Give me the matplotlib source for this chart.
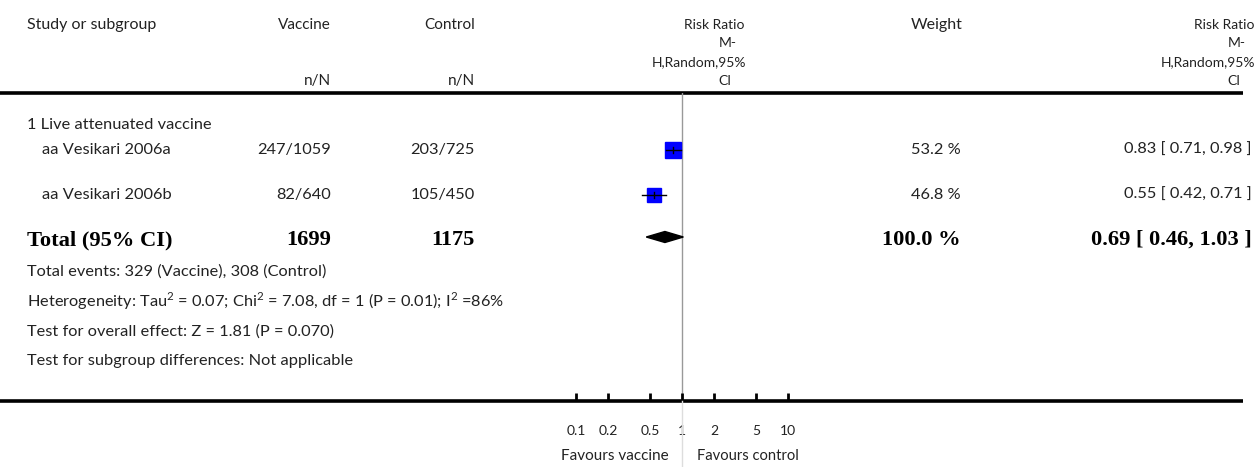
import matplotlib.pyplot as plt
from matplotlib.patches import Polygon

# data
studies = ['aa Vesikari 2006a', 'aa Vesikari 2006b']
vac_events = [247, 82]
vac_total = [1059, 640]
ctl_events = [203, 105]
ctl_total = [725, 450]
rr = [0.83, 0.55]
rr_lo = [0.71, 0.42]
rr_hi = [0.98, 0.71]
weights = [53.2, 46.8]
pooled = (0.69, 0.46, 1.03)
tick_vals = [0.1, 0.2, 0.5, 1, 2, 5, 10]
tick_labels = ['0.1', '0.2', '0.5', '1', '2', '5', '10']

footer = ['Total events: 329 (Vaccine), 308 (Control)',
          'Heterogeneity: Tau$^2$ = 0.07; Chi$^2$ = 7.08, df = 1 (P = 0.01); I$^2$ =86%',
          'Test for overall effect: Z = 1.81 (P = 0.070)',
          'Test for subgroup differences: Not applicable']

W, H = 1258, 467
plt.rcParams['font.family'] = ['Lato', 'DejaVu Sans']
plt.rcParams['mathtext.fontset'] = 'custom'
plt.rcParams['mathtext.rm'] = 'Lato'
txt = '#222222'
fs_head = 11
fs = 11.8
bold = dict(family='Liberation Serif', fontweight='bold', fontsize=16.2, color='black')

fig = plt.figure(figsize=(W / 100, H / 100), dpi=100)
ax0 = fig.add_axes([0, 0, 1, 1])
ax0.set_xlim(0, W)
ax0.set_ylim(H, 0)
ax0.axis('off')

# header
ax0.text(27, 25, 'Study or subgroup', fontsize=fs_head + 0.5, color=txt, va='center')
ax0.text(331, 25, 'Vaccine', fontsize=fs_head, color=txt, va='center', ha='right')
ax0.text(475, 25, 'Control', fontsize=fs_head, color=txt, va='center', ha='right')
ax0.text(331, 81, 'n/N', fontsize=fs_head, color=txt, va='center', ha='right')
ax0.text(475, 81, 'n/N', fontsize=fs_head, color=txt, va='center', ha='right')
ax0.text(937, 25, 'Weight', fontsize=fs_head + 0.5, color=txt, va='center', ha='center')
for xr in (746, 1255):
    for line, dx, yy in [('Risk Ratio', -1, 25), ('M-', -9, 43), ('H,Random,95%', 0, 62), ('CI', -15, 81)]:
        ax0.text(xr + dx, yy, line, fontsize=10, color=txt, va='center', ha='right')

ax0.plot([0, 1243], [93, 93], color='black', lw=2.6, solid_capstyle='butt')
ax0.plot([0, 1243], [401, 401], color='black', lw=2.6, solid_capstyle='butt')

# rows
ax0.text(27, 125, '1 Live attenuated vaccine', fontsize=fs, color=txt, va='center')
row_y = [150, 195]
for i, y in enumerate(row_y):
    ax0.text(42, y, studies[i], fontsize=fs, color=txt, va='center')
    ax0.text(331, y, f'{vac_events[i]}/{vac_total[i]}', fontsize=fs, color=txt, va='center', ha='right')
    ax0.text(475, y, f'{ctl_events[i]}/{ctl_total[i]}', fontsize=fs, color=txt, va='center', ha='right')
    ax0.text(961, y, f'{weights[i]:.1f} %', fontsize=fs, color=txt, va='center', ha='right')
    ax0.text(1252, y, f'{rr[i]:.2f} [ {rr_lo[i]:.2f}, {rr_hi[i]:.2f} ]', fontsize=fs, color=txt,
             va='center', ha='right')

ty = 240
ax0.text(27, ty, 'Total (95% CI)', va='center', **bold)
ax0.text(331, ty, str(sum(vac_total)), va='center', ha='right', **bold)
ax0.text(475, ty, str(sum(ctl_total)), va='center', ha='right', **bold)
ax0.text(961, ty, f'{sum(weights):.1f} %', va='center', ha='right', **bold)
ax0.text(1252, ty, f'{pooled[0]:.2f} [ {pooled[1]:.2f}, {pooled[2]:.2f} ]', va='center', ha='right', **bold)

for k, line in enumerate(footer):
    ax0.text(27, 272 + k * 29.7, line, fontsize=fs, color=txt, va='center')

# forest panel: log axis, 1 decade = 106 px, centre at x=682
x_left = 682 - 2 * 106
ax = fig.add_axes([x_left / W, 1 - 401 / H, 4 * 106 / W, (401 - 93) / H])
ax.patch.set_alpha(0)
ax.set_xscale('log')
ax.set_xlim(0.01, 100)
ax.set_ylim(401, 93)
for s in ax.spines.values():
    s.set_visible(False)
ax.set_yticks([])
ax.set_xticks(tick_vals)
ax.set_xticklabels(tick_labels)
ax.minorticks_off()
ax.tick_params(axis='x', direction='in', length=6, width=2, color='black',
               labelsize=10, labelcolor=txt, pad=17)

ax.axvline(1, color='#999999', lw=1, zorder=1)
ax.axvline(1, ymin=-0.215, ymax=0, color='#dddddd', lw=1, clip_on=False)

for i, y in enumerate(row_y):
    ax.plot([rr_lo[i], rr_hi[i]], [y, y], color='black', lw=1, zorder=3)
    ms = 11.2 * (weights[i] / max(weights)) ** 0.5
    ax.plot(rr[i], y, marker='s', ms=ms, color='#0000ff', mec='#0000ff', zorder=2)
    ax.plot([rr[i], rr[i]], [y - 3, y + 3], color='black', lw=1, zorder=3)

dy = 5.5
ax.add_patch(Polygon([(pooled[1], ty - 3), (pooled[0], ty - 3 - dy), (pooled[2], ty - 3),
                      (pooled[0], ty - 3 + dy)], closed=True, color='black', zorder=3))

ax.text(0.74, 456, 'Favours vaccine', fontsize=11, color=txt, va='center', ha='right', clip_on=False)
ax.text(1.385, 456, 'Favours control', fontsize=10.6, color=txt, va='center', ha='left', clip_on=False)

fig.savefig('out.png', dpi=100)
